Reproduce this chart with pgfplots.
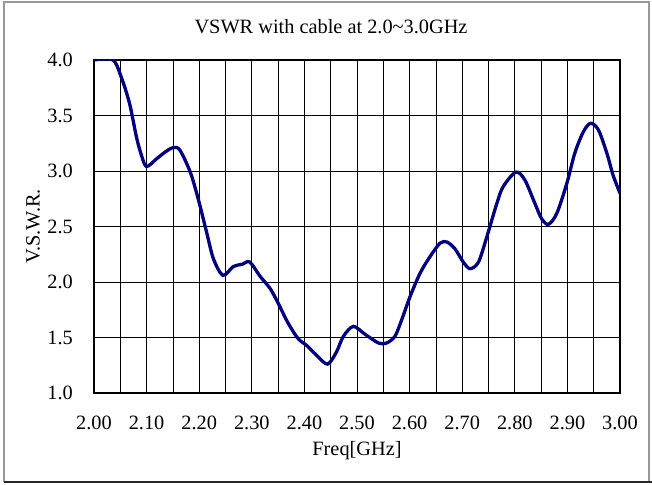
\documentclass[border=0pt]{standalone}
\usepackage{fontspec}
\setmainfont{Liberation Serif}
\usepackage{pgfplots}
\pgfplotsset{compat=1.18}
\definecolor{curve}{RGB}{0,0,128}
\begin{document}
\fontsize{20.4}{24}\selectfont
\begin{tikzpicture}
\useasboundingbox (0,0) rectangle (652bp,485bp);
\draw[gray!80, line width=1.2bp] (4bp,3bp) -- (4bp,483bp) -- (649bp,483bp) -- (649bp,3bp);
\draw[black!85, line width=2bp] (4bp,3bp) -- (652bp,3bp);
\begin{axis}[
  at={(94bp,92bp)}, anchor=south west,
  scale only axis, width=526bp, height=333bp,
  xmin=2.0, xmax=3.0, ymin=1.0, ymax=4.0,
  xtick={2.0,2.1,...,3.01},
  minor xtick={2.05,2.15,...,3.0},
  ytick={1.0,1.5,...,4.01},
  xticklabel={\pgfmathprintnumber[fixed,fixed zerofill,precision=2]{\tick}},
  yticklabel={\pgfmathprintnumber[fixed,fixed zerofill,precision=1]{\tick}},
  /pgf/number format/assume math mode=true,
  grid=both,
  major grid style={black, line width=0.8bp},
  minor grid style={black, line width=0.8bp},
  major tick length=0pt, minor tick length=0pt,
  axis line style={black, line width=2.6bp},
  xticklabel style={anchor=center, font=\fontsize{20.4}{24}\selectfont},
  xticklabel shift=30bp,
  yticklabel style={anchor=east, inner sep=0pt, font=\fontsize{20.4}{24}\selectfont},
  yticklabel shift=21bp,
  title={VSWR with cable at 2.0\textasciitilde 3.0GHz},
  title style={at={(axis description cs:0.4506,1.081)}, anchor=center, font=\fontsize{20.4}{24}\selectfont},
  xlabel={Freq[GHz]},
  xlabel style={at={(axis description cs:0.5,-0.174)}, anchor=center, font=\fontsize{20.4}{24}\selectfont},
  ylabel={V.S.W.R.},
  ylabel style={at={(axis description cs:-0.116,0.5)}, anchor=center, rotate=0, font=\fontsize{20.4}{24}\selectfont},
]
\addplot[curve, line width=3.3bp, smooth, tension=0.5] coordinates {
(2.000,4.00) (2.036,4.00) (2.053,3.83) (2.068,3.60) (2.081,3.30) (2.091,3.13)
(2.100,3.04) (2.119,3.11) (2.135,3.17) (2.150,3.21) (2.163,3.19) (2.183,2.99)
(2.198,2.75) (2.214,2.45) (2.227,2.21) (2.245,2.06) (2.265,2.14) (2.282,2.16)
(2.296,2.18) (2.316,2.05) (2.335,1.94) (2.350,1.81) (2.369,1.63) (2.388,1.49)
(2.404,1.43) (2.423,1.34) (2.444,1.26) (2.461,1.37) (2.474,1.51) (2.493,1.60)
(2.515,1.53) (2.541,1.45) (2.556,1.45) (2.572,1.51) (2.585,1.66) (2.601,1.87)
(2.620,2.08) (2.639,2.23) (2.658,2.35) (2.671,2.36) (2.686,2.30) (2.702,2.18)
(2.715,2.12) (2.731,2.18) (2.747,2.41) (2.766,2.71) (2.778,2.86) (2.802,2.99)
(2.819,2.92) (2.838,2.71) (2.851,2.57) (2.864,2.52) (2.880,2.62) (2.899,2.89)
(2.914,3.16) (2.930,3.35) (2.944,3.43) (2.959,3.37) (2.975,3.16) (2.987,2.96)
(3.000,2.80)
};
\end{axis}
\end{tikzpicture}
\end{document}
